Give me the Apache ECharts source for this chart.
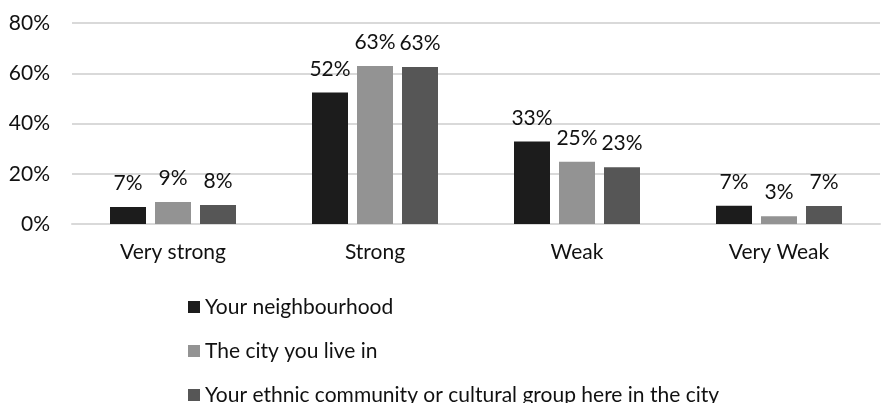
<!DOCTYPE html>
<html><head><meta charset="utf-8">
<script src="https://cdn.jsdelivr.net/npm/echarts@6/dist/echarts.min.js"></script>
<style>html,body{margin:0;padding:0;background:#fff}#c{width:882px;height:403px}</style>
</head><body><div id="c"></div>
<script>
const categories = ['Very strong', 'Strong', 'Weak', 'Very Weak'];
const seriesNames = ['Your neighbourhood', 'The city you live in', 'Your ethnic community or cultural group here in the city'];
const neighbourhood = [6.8, 52.3, 32.8, 7.3];
const city = [8.8, 62.9, 24.8, 3.1];
const ethnic = [7.6, 62.5, 22.6, 7.2];
const yTicks = [0, 20, 40, 60, 80];
const colors = ['#1c1c1c', '#939393', '#565656'];
const FONT = 'Lato';
const FS = 21;

const chart = echarts.init(document.getElementById('c'));
const mk = (name, data, color) => ({
  name, type: 'bar', data, barWidth: 36, barGap: '25%',
  itemStyle: { color },
  label: { show: true, position: 'top', distance: 13, color: '#111', fontFamily: FONT, fontSize: FS,
    formatter: p => Math.round(p.value) + '%' }
});
chart.setOption({
  animation: false,
  textStyle: { fontFamily: FONT },
  grid: { left: 72, right: 2, top: 23, bottom: 179 },
  legend: {
    orient: 'vertical', left: 183, top: 291, height: 200, itemWidth: 12, itemHeight: 12, itemGap: 22,
    icon: 'rect',
    textStyle: { fontFamily: FONT, fontSize: FS, color: '#111', lineHeight: 22 },
    data: seriesNames
  },
  xAxis: {
    type: 'category', data: categories,
    axisLine: { lineStyle: { color: '#d9d9d9', width: 2 } },
    axisTick: { show: false },
    axisLabel: { color: '#111', fontSize: FS, fontFamily: FONT, margin: 18 }
  },
  yAxis: {
    type: 'value', min: yTicks[0], max: yTicks[yTicks.length - 1], interval: 20,
    axisLine: { show: false }, axisTick: { show: false },
    splitLine: { lineStyle: { color: '#d9d9d9', width: 2 } },
    axisLabel: { color: '#111', fontSize: FS, fontFamily: FONT, margin: 22, formatter: '{value}%' }
  },
  series: [mk(seriesNames[0], neighbourhood, colors[0]), mk(seriesNames[1], city, colors[1]), mk(seriesNames[2], ethnic, colors[2])]
});
</script></body></html>
